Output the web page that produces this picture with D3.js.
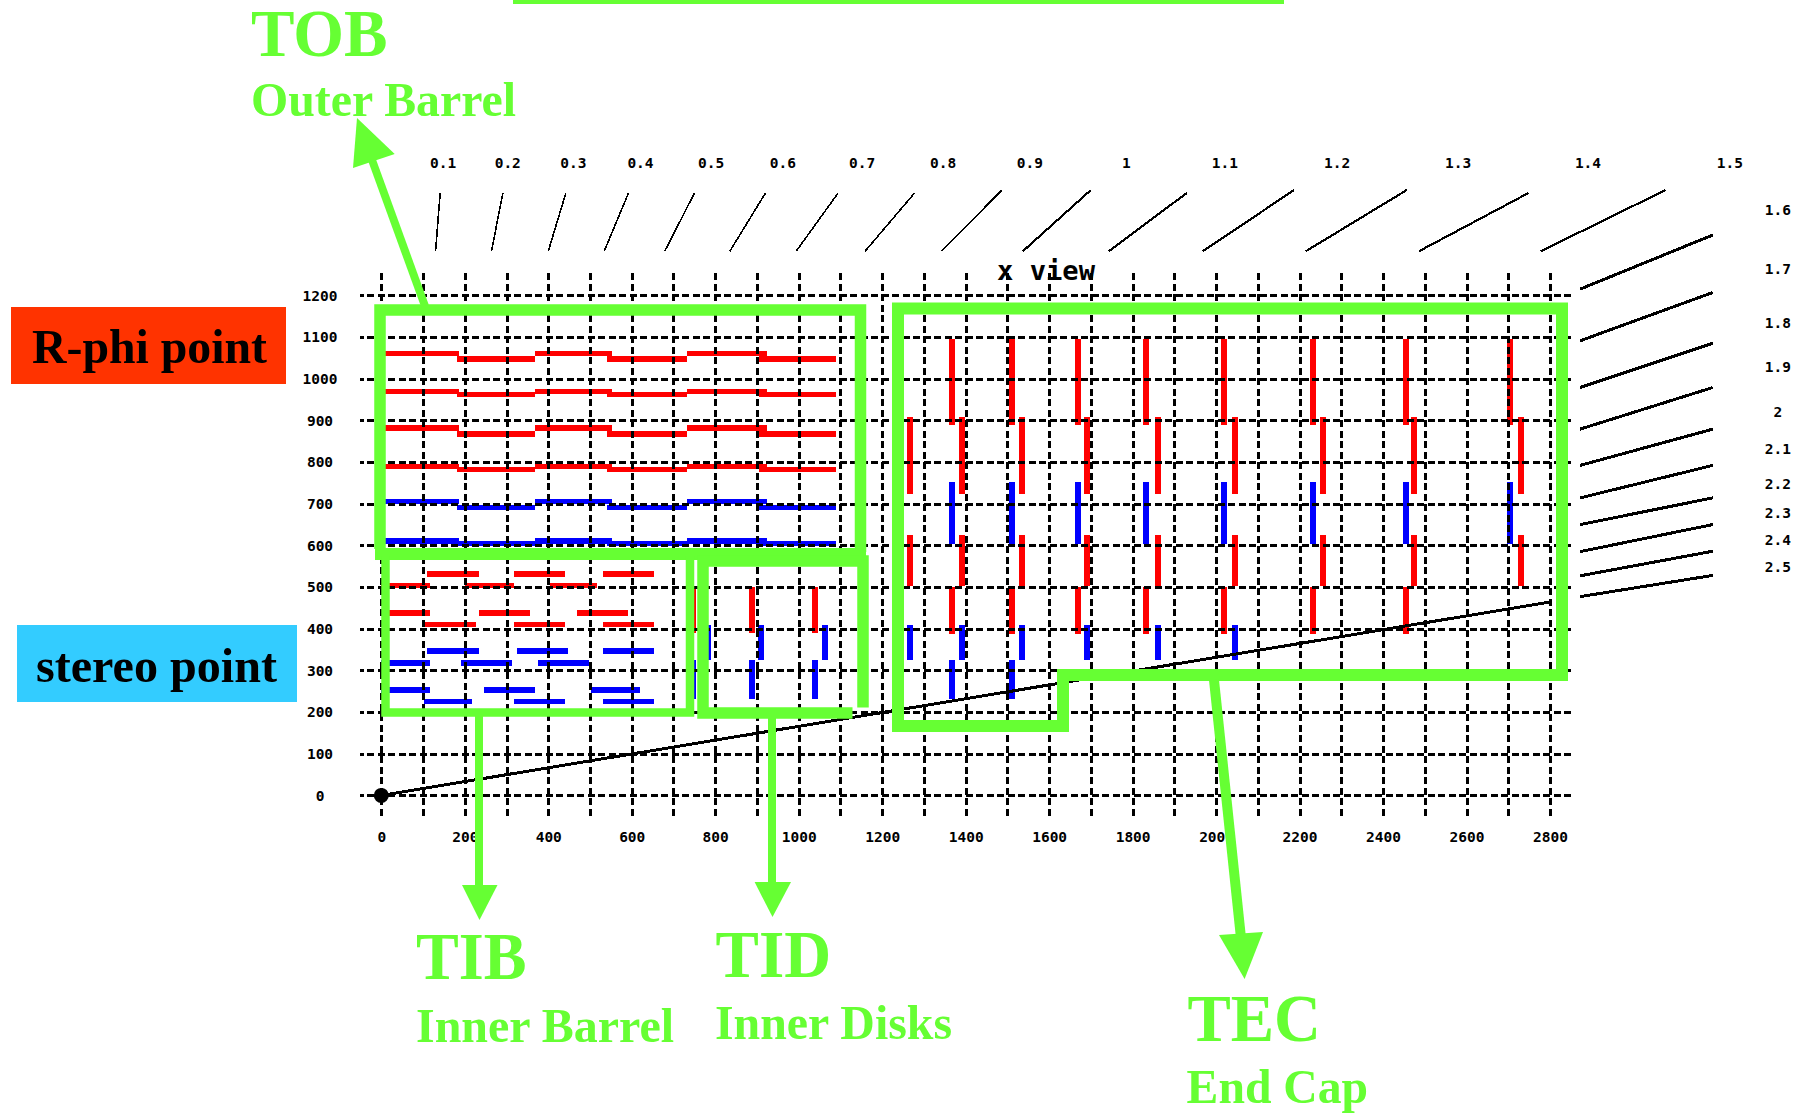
<!DOCTYPE html>
<html>
<head>
<meta charset="utf-8">
<script src="https://cdn.jsdelivr.net/npm/d3@7"></script>
<style>
body{margin:0;background:#fff;overflow:hidden;}
svg{display:block;}
.small{font-family:"DejaVu Sans Mono",monospace;font-size:14.5px;fill:#000;font-weight:bold;}
.grid line{stroke:#000;stroke-width:3;stroke-dasharray:7 3.5;shape-rendering:crispEdges;}
.grid path{display:none;}
.eta{stroke:#000;fill:none;shape-rendering:crispEdges;}
.rphi{stroke:#ff0000;}
.stereo{stroke:#0000ff;}
.callout{font-family:"Liberation Serif",serif;font-weight:bold;fill:#66ff33;}
.legend{font-family:"Liberation Serif",serif;font-weight:bold;fill:#000;}
.box{fill:none;stroke:#66ff33;stroke-linejoin:miter;}
</style>
</head>
<body>
<svg id="chart" width="1810" height="1115"></svg>
<script>
//axis ticks---------------------------
var zTicks=[0,100,200,300,400,500,600,700,800,900,1000,1100,1200,1300,1400,1500,1600,1700,1800,1900,2000,2100,2200,2300,2400,2500,2600,2700,2800];
var rTicks=[0,100,200,300,400,500,600,700,800,900,1000,1100,1200];

//pseudorapidity lines (z,r of both ends)
var etaLabels=['0.1','0.2','0.3','0.4','0.5','0.6','0.7','0.8','0.9','1','1.1','1.2','1.3','1.4','1.5','1.6','1.7','1.8','1.9','2','2.1','2.2','2.3','2.4','2.5'];
var etaZ0=[130,264,400,534,679,835,994,1159,1342,1537,1743,1968,2215,2486,2778,2872,2872,2872,2872,2872,2872,2872,2872,2872,2872];
var etaR0=[1306,1306,1306,1306,1306,1306,1306,1306,1306,1306,1306,1306,1306,1306,1306,1215,1091,979,879,792,714,650,585,527,477];
var etaZ1=[141,291,442,592,750,920,1094,1277,1487,1700,1930,2187,2457,2749,3077,3190,3190,3190,3190,3190,3190,3190,3190,3190,3190];
var etaR1=[1445,1445,1445,1445,1445,1445,1445,1445,1453,1453,1446,1453,1453,1446,1453,1345,1207,1085,979,879,792,714,650,586,528];
var etaLabelZ=[148,303,460,621,790,962,1152,1346,1554,1785,2021,2290,2580,2891,3231,3346,3346,3346,3346,3346,3346,3346,3346,3346,3346];
var etaLabelR=[1518,1518,1518,1518,1518,1518,1518,1518,1518,1518,1518,1518,1518,1518,1518,1405,1263,1134,1028,920,831,747,678,613,548];
var beamZ=[0,2800];
var beamR=[0,464];

//TOB rows
var tobZ=[[10,187],[182,369],[369,552],[540,733],[733,923],[905,1089]];
var tobRphiHigh=[1060,969,882,789];
var tobRphiLow=[1047,962,867,782];
var tobStereoHigh=[705,610];
var tobStereoLow=[691,605];

//TIB rows
var tibRphiR=[531,504,438,410];
var tibRphiZ=[
  [[110,233],[319,440],[532,653]],
  [[0,117],[201,319],[403,517]],
  [[0,117],[233,356],[469,590]],
  [[102,226],[319,440],[532,653]]
];
var tibStereoR=[347,318,253,225];
var tibStereoZ=[
  [[110,233],[326,448],[532,653]],
  [[0,117],[190,312],[376,497]],
  [[0,117],[246,368],[503,619]],
  [[102,218],[319,440],[532,653]]
];

//TID disks
var tidZa=[747,888,1040];
var tidZb=[783,910,1062];
var tidRphiR=[390,500];
var tidStereoUpperR=[326,408];
var tidStereoLowerR=[231,325];

//TEC disks
var tecZa=[1368,1512,1668,1833,2018,2233,2454,2703];
var tecZb=[1267,1391,1534,1690,1861,2046,2255,2475,2730];
var tecRphiA=[890,1096];
var tecRphiB=[723,909];
var tecStereoA=[603,752];
var tecRphiC=[502,625];
var tecRphiD=[388,500];
var tecStereoB=[326,408];
var tecStereoC=[232,325];

//callout labels
var detectorNames=['TOB','TIB','TID','TEC'];
var detectorLongNames=['Outer Barrel','Inner Barrel','Inner Disks','End Cap'];
var legendNames=['R-phi point','stereo point'];

//scales---------------------------
var x=d3.scaleLinear().domain([0,2800]).range([381.3,1550]);
var y=d3.scaleLinear().domain([0,1200]).range([795.4,295.4]);
var svg=d3.select('#chart');
var green='#66ff33';

//modules
function hseg(z0,z1,r0,kind){
  return {z0:z0,z1:z1,r0:r0,r1:r0,kind:kind,w:5.5};
}
function vsegs(zs,rr,kind){
  return zs.map(function(z){return {z0:z,z1:z,r0:rr[0],r1:rr[1],kind:kind,w:6};});
}
var modules=[];
tobRphiHigh.forEach(function(r,i){
  tobZ.forEach(function(s,k){modules.push(hseg(s[0],s[1],k%2?tobRphiLow[i]:r,'rphi'));});
});
tobStereoHigh.forEach(function(r,i){
  tobZ.forEach(function(s,k){modules.push(hseg(s[0],s[1],k%2?tobStereoLow[i]:r,'stereo'));});
});
tibRphiR.forEach(function(r,i){
  tibRphiZ[i].forEach(function(s){modules.push(hseg(s[0],s[1],r,'rphi'));});
});
tibStereoR.forEach(function(r,i){
  tibStereoZ[i].forEach(function(s){modules.push(hseg(s[0],s[1],r,'stereo'));});
});
modules=modules.concat(
  vsegs(tidZa,tidRphiR,'rphi'),
  vsegs(tidZb,tidStereoUpperR,'stereo'),
  vsegs(tidZa,tidStereoLowerR,'stereo'),
  vsegs(tecZa,tecRphiA,'rphi'),
  vsegs(tecZb,tecRphiB,'rphi'),
  vsegs(tecZa,tecStereoA,'stereo'),
  vsegs(tecZb,tecRphiC,'rphi'),
  vsegs(tecZa.slice(0,7),tecRphiD,'rphi'),
  vsegs(tecZb.slice(0,6),tecStereoB,'stereo'),
  vsegs(tecZa.slice(0,2),tecStereoC,'stereo')
);

svg.append('g').selectAll('line').data(modules).join('line')
  .attr('class',function(d){return d.kind;})
  .attr('x1',function(d){return x(d.z0);})
  .attr('x2',function(d){return x(d.z1);})
  .attr('y1',function(d){return y(d.r0);})
  .attr('y2',function(d){return y(d.r1);})
  .attr('stroke-width',function(d){return d.w;})
  .attr('shape-rendering','crispEdges');

//grid is drawn through the axes, long ticks
var gridTop=273,gridBottom=817,gridLeft=360,gridRight=1571;
var xAxis=d3.axisBottom(x).tickValues(zTicks)
  .tickFormat(function(d){return d%200==0?d:'';})
  .tickSize(gridBottom-gridTop).tickPadding(15);
var gx=svg.append('g').attr('class','grid').attr('transform','translate(0,'+gridTop+')').call(xAxis);
gx.selectAll('text').attr('class','small').attr('font-family',null).attr('font-size',null);
gx.attr('font-family',null).attr('font-size',null);

var yAxis=d3.axisLeft(y).tickValues(rTicks).tickFormat(function(d){return d;})
  .tickSize(gridRight-gridLeft).tickPadding(0);
var gy=svg.append('g').attr('class','grid').attr('transform','translate('+gridRight+',0)').call(yAxis);
gy.attr('font-family',null).attr('font-size',null);
gy.selectAll('text').attr('class','small').attr('x',320-gridRight).attr('text-anchor','middle');
gx.selectAll('text').attr('text-anchor','middle');

//eta lines
var line=d3.line().x(function(d){return x(d[0]);}).y(function(d){return y(d[1]);});
svg.append('g').selectAll('path').data(etaLabels).join('path')
  .attr('class','eta')
  .attr('stroke-width',function(d,i){return i<9?1.6:(i<15?2.2:3);})
  .attr('d',function(d,i){return line([[etaZ0[i],etaR0[i]],[etaZ1[i],etaR1[i]]]);});
svg.append('g').selectAll('text').data(etaLabels).join('text')
  .attr('class','small')
  .attr('text-anchor','middle')
  .attr('dy','.36em')
  .attr('x',function(d,i){return x(etaLabelZ[i]);})
  .attr('y',function(d,i){return y(etaLabelR[i]);})
  .text(function(d){return d;});

svg.append('path').attr('class','eta').attr('stroke-width',3)
  .attr('d',line(beamZ.map(function(z,i){return [z,beamR[i]];})));
svg.append('circle').attr('cx',x(0)).attr('cy',y(0)).attr('r',7.5).attr('fill','#000');

svg.append('text')
  .attr('x',997).attr('y',280)
  .attr('textLength',98).attr('lengthAdjust','spacingAndGlyphs')
  .style('font-family','"DejaVu Sans Mono",monospace').style('font-weight','bold').style('font-size','27px')
  .text('x view');

//legend boxes
svg.append('rect').attr('x',11).attr('y',307).attr('width',275).attr('height',77).attr('fill','#ff3300');
svg.append('rect').attr('x',17).attr('y',625).attr('width',280).attr('height',77).attr('fill','#33ccff');
function fitText(cls,s,px,base,size,wid){
  svg.append('text').attr('class',cls)
    .attr('x',px).attr('y',base)
    .attr('textLength',wid).attr('lengthAdjust','spacingAndGlyphs')
    .style('font-size',size+'px')
    .text(s);
}
fitText('legend',legendNames[0],32,363,48.5,235);
fitText('legend',legendNames[1],36,682,48.5,241);

//green outlines
function outline(d,w){
  svg.append('path').attr('class','box').attr('d',d).attr('stroke-width',w);
}
svg.append('rect').attr('x',513).attr('y',0).attr('width',771).attr('height',4).attr('fill',green);
outline('M380,549 V310 H860.5 V552',11.5);
outline('M375,554 H866',12);
outline('M690,556 V712.5 H385.5 V556',8.5);
outline('M863,707.5 V561 H703 V713 H852.5',11.5);
outline('M898,308.5 H1562 V675 H1063 V726 H898 Z',12);

//arrows
function arrow(x0,y0,x1,y1,w,a,b,tipx,tipy){
  svg.append('path').attr('class','box').attr('d','M'+x0+','+y0+' L'+x1+','+y1).attr('stroke-width',w);
  svg.append('path').attr('fill',green)
    .attr('d','M'+a[0]+','+a[1]+' L'+b[0]+','+b[1]+' L'+tipx+','+tipy+' Z');
}
arrow(425,306,372,160,8,[353,168],[394.7,154],357,118);
arrow(479,713,479,890,8,[462,885],[497.5,885],479.5,920);
arrow(772,713,772,886,8,[754.6,882],[791,882],772.5,917);
arrow(1214,680,1241,938,10,[1219,935],[1263,932],1244.6,979);

//callout text
fitText('callout',detectorNames[0],251,55.5,68,136.5);
fitText('callout',detectorLongNames[0],251,116,48.5,265);
fitText('callout',detectorNames[1],416,979,67,110.5);
fitText('callout',detectorLongNames[1],416,1041.7,48.5,258);
fitText('callout',detectorNames[2],715.6,976.7,67,115.5);
fitText('callout',detectorLongNames[2],715,1038.7,48.5,237);
fitText('callout',detectorNames[3],1187.5,1041,68,133.5);
fitText('callout',detectorLongNames[3],1186.6,1103,48.5,181.5);
</script>
</body>
</html>
